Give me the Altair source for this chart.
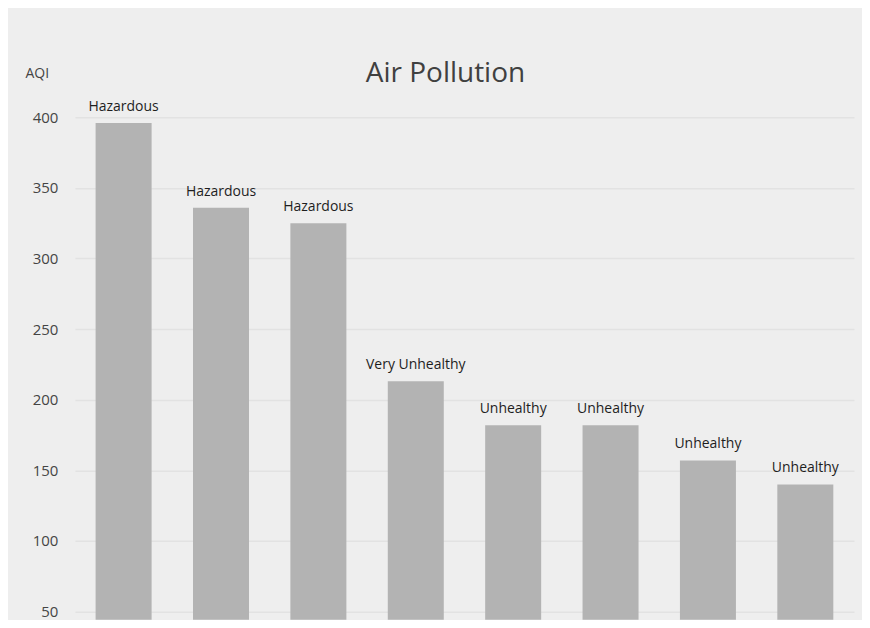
import altair as alt
import pandas as pd

locations = ["Site 1", "Site 2", "Site 3", "Site 4", "Site 5", "Site 6", "Site 7", "Site 8"]
aqi = [396, 336, 325, 213, 182, 182, 157, 140]
levels = ["Hazardous", "Hazardous", "Hazardous", "Very Unhealthy",
          "Unhealthy", "Unhealthy", "Unhealthy", "Unhealthy"]

df = pd.DataFrame({"location": locations, "aqi": aqi, "level": levels})

FONT = "Open Sans"

x = alt.X("location:N", sort=locations, axis=None,
          scale=alt.Scale(paddingInner=0.425, paddingOuter=0.2125))
y = alt.Y("aqi:Q",
          scale=alt.Scale(domain=[44.3, 419.8], nice=False, zero=False),
          axis=alt.Axis(values=[50, 100, 150, 200, 250, 300, 350, 400],
                        title="AQI", titleAngle=0, titleAlign="left",
                        titleBaseline="alphabetic", titleX=-50, titleY=-12,
                        titleFontSize=14, titleFontWeight="normal",
                        titleColor="#444444", titleFont=FONT,
                        labelFont=FONT, labelFontSize=15, labelColor="#444444",
                        labelPadding=17, ticks=False, domain=False,
                        grid=True, gridColor="#e2e2e2", gridWidth=1.5))

bars = alt.Chart(df).mark_bar(color="#b3b3b3", clip=True).encode(x=x, y=y)

labels = alt.Chart(df).mark_text(
    font=FONT, fontSize=14, color="#1e1e1e", align="center",
    baseline="alphabetic", dy=-12
).encode(x=x, y=alt.Y("aqi:Q"), text="level:N")

chart = alt.layer(bars, labels).properties(
    width=780, height=531,
    autosize=alt.AutoSizeParams(type="none"),
    padding={"left": 67, "top": 81, "right": 8, "bottom": 0},
    background="#eeeeee",
    title=alt.TitleParams("Air Pollution", font=FONT, fontSize=28,
                          fontWeight="normal", color="#404040",
                          anchor="middle", dx=-19, dy=26),
).configure_view(stroke=None)

chart.save("out.html", embed_options={"renderer": "svg", "actions": False})
